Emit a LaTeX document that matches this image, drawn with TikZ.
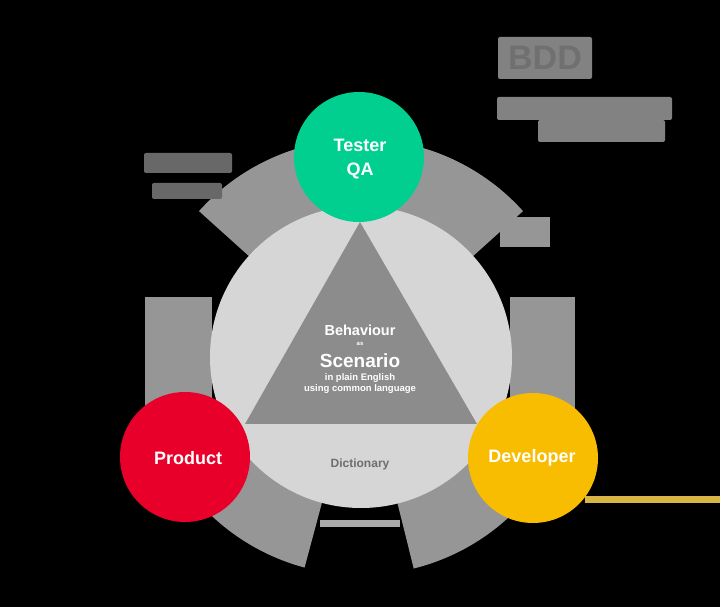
\documentclass[tikz,border=0pt]{standalone}
\usepackage{fontspec}
\setmainfont{Liberation Sans}
\usetikzlibrary{calc}
\definecolor{ringlight}{RGB}{214,214,214}
\definecolor{triangray}{RGB}{140,140,140}
\definecolor{bandgray}{RGB}{150,150,150}
\definecolor{testergreen}{RGB}{0,207,144}
\definecolor{productred}{RGB}{232,0,42}
\definecolor{devyellow}{RGB}{248,188,0}
\definecolor{lineyellow}{RGB}{216,182,70}
\definecolor{dictgray}{RGB}{110,110,110}
\definecolor{titlegray}{RGB}{130,130,130}
\definecolor{notegray}{RGB}{104,104,104}
\tikzset{
  band/.style={fill=bandgray},
  rolecircle/.style={circle, inner sep=0pt, minimum size=130pt},
  rolelabel/.style={text=white, font=\bfseries\fontsize{18}{24}\selectfont,
    align=center, inner sep=0pt},
  inner text/.style={text=white, font=\bfseries, inner sep=0pt},
  textbar/.style={fill=#1, rounded corners=2pt}
}
\begin{document}
\begin{tikzpicture}[x=1pt,y=1pt]
  \fill[black] (0,0) rectangle (720,607);
  \useasboundingbox (0,0) rectangle (720,607);

  \coordinate (c) at (361,250);

  % arrow bands of the cycle around the shared circle
  \foreach \a/\b in {100/138, 42/80, 210/255, 284/330}{
    \fill[band] ($(c)+(\a:218)$) arc[start angle=\a, end angle=\b, radius=218]
      -- ($(c)+(\b:140)$) arc[start angle=\b, end angle=\a, radius=140] -- cycle;
  }
  \fill[band] (145,177) rectangle (212,310);
  \fill[band] (510,177) rectangle (575,310);
  \fill[band] (500,360) rectangle (550,390);
  \fill[fill={rgb,255:red,170;green,170;blue,170}] (320,80) rectangle (400,87);

  % shared understanding circle and scenario triangle
  \node[circle, fill=ringlight, minimum size=302pt, inner sep=0pt] (shared) at (c) {};
  \coordinate (apex) at (360,385);
  \coordinate (baseL) at (245,183);
  \coordinate (baseR) at (477,183);
  \fill[triangray] (apex) -- (baseL) -- (baseR) -- cycle;

  \node[inner text, font=\bfseries\fontsize{14.5}{16}\selectfont] (behaviour) at (360,277) {Behaviour};
  \node[inner text, font=\bfseries\fontsize{6}{7}\selectfont] (as) at (360,263) {as};
  \node[inner text, font=\bfseries\fontsize{19}{22}\selectfont] (scenario) at (360,246) {Scenario};
  \node[inner text, font=\bfseries\fontsize{9.5}{11}\selectfont] (plain) at (360,229) {in plain English};
  \node[inner text, font=\bfseries\fontsize{9.5}{11}\selectfont] (common) at (360,218) {using common language};
  \node[text=dictgray, font=\bfseries\fontsize{12}{14}\selectfont, inner sep=0pt] (dict) at (360,143) {Dictionary};

  % underline leading out of the developer circle
  \coordinate (lineStart) at (585,107);
  \coordinate (lineEnd) at (720,107);
  \draw[lineyellow, line width=7pt] (lineStart) -- (lineEnd);

  % the three roles
  \node[rolecircle, fill=testergreen] (tester) at (359,450) {};
  \node[rolelabel] (testerlbl) at (360,448) {Tester\\QA};
  \node[rolecircle, fill=productred] (product) at (185,150) {};
  \node[rolelabel] (productlbl) at (188,149) {Product};
  \node[rolecircle, fill=devyellow] (developer) at (533,149) {};
  \node[rolelabel] (developerlbl) at (532,149) {Developer};

  % heading and side notes
  \fill[textbar=titlegray] (498,528) rectangle (592,570);
  \node[text={rgb,255:red,112;green,112;blue,112}, font=\bfseries\fontsize{34}{38}\selectfont, inner sep=0pt] (bdd) at (545,549) {BDD};
  \fill[textbar=titlegray] (497,487) rectangle (672,510);
  \fill[textbar=titlegray] (538,465) rectangle (665,487);
  \fill[textbar=notegray] (144,434) rectangle (232,454);
  \fill[textbar=notegray] (152,408) rectangle (222,424);
\end{tikzpicture}
\end{document}
